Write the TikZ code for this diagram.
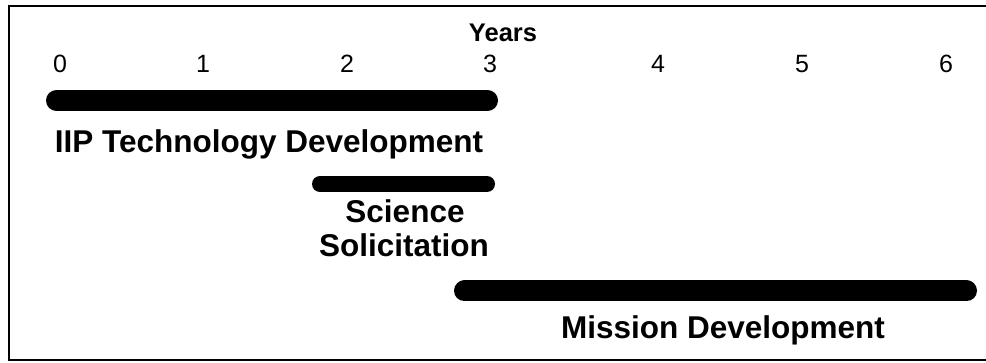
\documentclass[tikz,border=0pt]{standalone}
\usepackage{fontspec}
\setmainfont{Liberation Sans}
\usetikzlibrary{ positioning, % For easy node-relative placements
               }
\tikzstyle{bar} = [line width=21pt, line cap=round]
\tikzstyle{bar_thin} = [line width=16pt, line cap=round]
\tikzstyle{tick} = [inner sep=0pt, anchor=base, font=\fontsize{25}{28}\selectfont]
\tikzstyle{caption} = [inner sep=0pt, anchor=base, align=center, font=\fontsize{31.5}{34}\selectfont\bfseries]

\begin{document}
\begin{tikzpicture}[x=1pt, y=-1pt]
  \useasboundingbox (0,0) rectangle (986,363);
  \draw [line width=2pt] (9,6) rectangle (990,360);

  \node (years) [tick, font=\fontsize{25.5}{28}\selectfont\bfseries] at (503, 42) {Years};
  \node (y0) [tick] at (60, 73) {0};
  \node (y1) [tick] at (203, 73) {1};
  \node (y2) [tick] at (347, 73) {2};
  \node (y3) [tick] at (490, 73) {3};
  \node (y4) [tick] at (658, 73) {4};
  \node (y5) [tick] at (802, 73) {5};
  \node (y6) [tick] at (946, 73) {6};

  \coordinate (iip_start) at (56.5, 100.5);
  \coordinate (iip_end) at (487.5, 100.5);
  \draw [bar] (iip_start) -- (iip_end);
  \node (iip) [caption] at (269, 153) {IIP Technology Development};

  \coordinate (sci_start) at (320, 184);
  \coordinate (sci_end) at (487, 184);
  \draw [bar_thin] (sci_start) -- (sci_end);
  \node (sci) [caption] at (405, 223) {Science};
  \node (sol) [caption] at (404, 257) {Solicitation};

  \coordinate (mis_start) at (464.5, 291);
  \coordinate (mis_end) at (966.5, 291);
  \draw [bar] (mis_start) -- (mis_end);
  \node (mis) [caption] at (723, 339) {Mission Development};
\end{tikzpicture}
\end{document}
